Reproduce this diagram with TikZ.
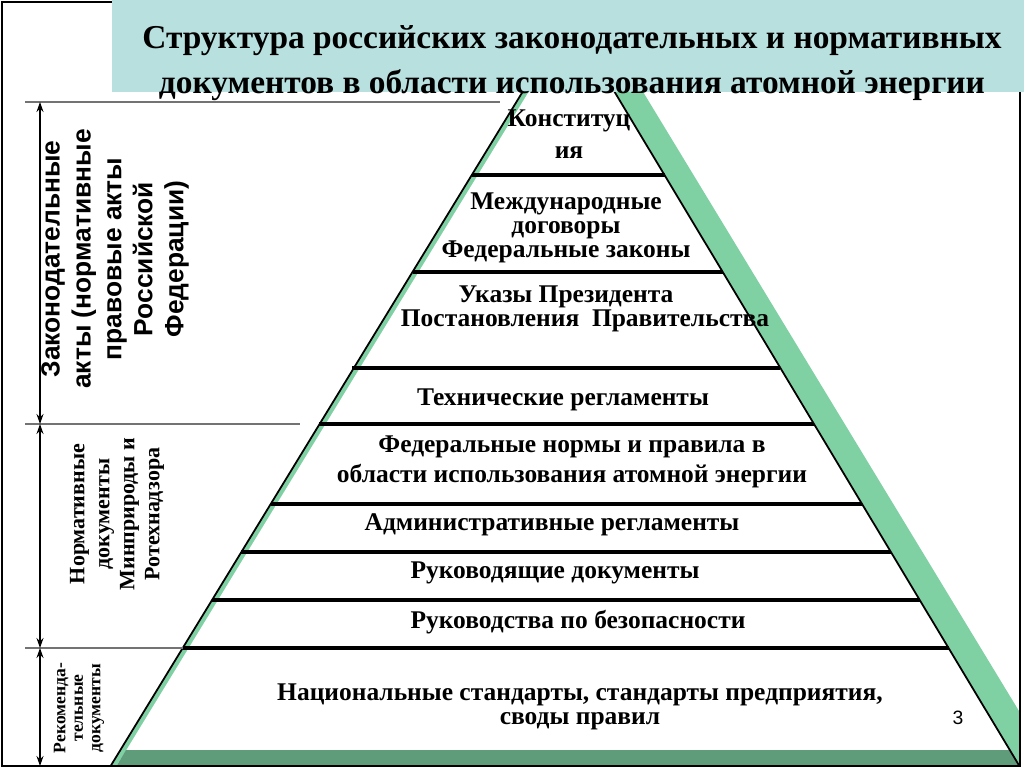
\documentclass[tikz,border=0pt]{standalone}
\usepackage{fontspec}
\setmainfont{Liberation Serif}
\setsansfont{Liberation Sans}
\usetikzlibrary{arrows.meta, positioning, calc}
\definecolor{titleteal}{RGB}{184,224,222}
\definecolor{pyrgreen}{RGB}{127,209,163}
\definecolor{basegreen}{RGB}{94,156,122}
\tikzset{
    lvltext/.style={font=\fontsize{14.5}{#1}\selectfont\bfseries, align=center, inner sep=0pt},
    lvltext/.default=13,
    sidelabel/.style={rotate=90, align=center, inner sep=0pt},
    levelline/.style={line width=2.3pt},
    guideline/.style={black!55, line width=0.7pt},
    dimarrow/.style={{Stealth[length=2mm,width=1.4mm]}-{Stealth[length=2mm,width=1.4mm]}, line width=0.6pt},
    edgeline/.style={line width=1pt}
}

\begin{document}
\begin{tikzpicture}[x=0.02cm, y=-0.02cm]
\useasboundingbox (0,0) rectangle (1024,768);

% pyramid body
\begin{scope}
    \clip (2,2) rectangle (1020,766);
    \fill[pyrgreen] (583,-7) -- (1053,767) -- (110,767) -- cycle;
    \fill[white] (572,21) -- (1020,767) -- (116,767) -- cycle;
    \fill[basegreen] (126,750) -- (1010,750) -- (1020,767) -- (116,767) -- cycle;
    \draw[edgeline] (583,-7) -- (110,767);
    \draw[edgeline] (572,21) -- (1020,767);
\end{scope}

% level separators
\draw[levelline] (472,175) -- (665,175);
\draw[levelline] (413,272) -- (723,272);
\draw[levelline] (352,368) -- (780,368);
\draw[levelline] (319,424) -- (814,424);
\draw[levelline] (271,504) -- (862,504);
\draw[levelline] (241,552) -- (891,552);
\draw[levelline] (212,600) -- (920,600);
\draw[levelline] (183,648) -- (949,648);

% frame and title
\draw[line width=0.6pt] (2,2) rectangle (1020,766);
\fill[titleteal] (112,0) rectangle (1024,92);
\node[font=\fontsize{19}{26}\selectfont\bfseries, align=center] (title) at (572,63)
    {Структура российских законодательных и нормативных\\документов в области использования атомной энергии};

% levels
\node[lvltext=18] (konst) at (569,134) {Конституц\\ия};
\node[lvltext=13.6] (dogovor) at (566,228) {Международные\\договоры\\Федеральные законы};
\node[lvltext] (ukaz) at (566,297) {Указы Президента};
\node[lvltext] (postanov) at (585,321) {Постановления\ \ Правительства};
\node[lvltext] (tehreg) at (563,400) {Технические регламенты};
\node[lvltext=17] (fnp) at (572,462) {Федеральные нормы и правила в\\области использования атомной энергии};
\node[lvltext] (admreg) at (552,525) {Административные регламенты};
\node[lvltext] (rukdoc) at (555,573) {Руководящие документы};
\node[lvltext] (rukbez) at (578,622) {Руководства по безопасности};
\node[lvltext=13.7] (natst) at (580,707) {Национальные стандарты, стандарты предприятия,\\своды правил};
\node[font=\sffamily\fontsize{11}{13}\selectfont, inner sep=0pt] (pagenum) at (958,718) {3};

% left scale
\coordinate (d1) at (40,102);
\coordinate (d2) at (40,424);
\coordinate (d3) at (40,648);
\coordinate (d4) at (40,766);
\draw[guideline] (25,102) -- (500,102);
\draw[guideline] (25,424) -- (300,424);
\draw[guideline] (25,648) -- (183,648);
\draw[dimarrow] (d1) -- (d2);
\draw[dimarrow] (d2) -- (d3);
\draw[dimarrow] (d3) -- (d4);

\node[sidelabel, font=\sffamily\fontsize{15}{17.6}\selectfont\bfseries] (zakon) at (115,259)
    {Законодательные\\акты (нормативные\\правовые акты\\Российской\\Федерации)};
\node[sidelabel, font=\fontsize{12.5}{14.2}\selectfont\bfseries] (normdoc) at (117,514)
    {Нормативные\\документы\\Минприроды и\\Ротехнадзора};
\node[sidelabel, font=\fontsize{10}{9.9}\selectfont\bfseries] (rekom) at (79,708)
    {Рекоменда-\\тельные\\документы};

\end{tikzpicture}
\end{document}
